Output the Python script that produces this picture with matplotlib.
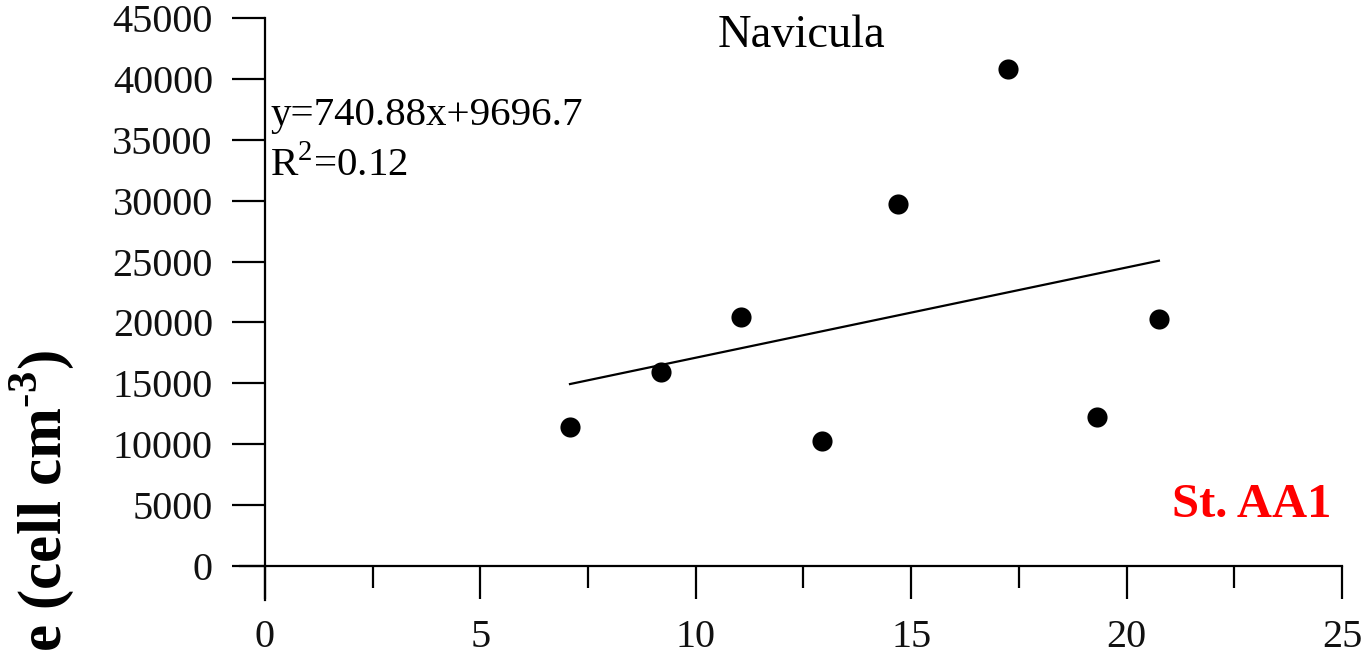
import matplotlib
matplotlib.use("Agg")
import matplotlib.pyplot as plt
import numpy as np

plt.rcParams['font.family'] = ['Liberation Serif', 'DejaVu Serif']
plt.rcParams['mathtext.fontset'] = 'custom'
plt.rcParams['mathtext.rm'] = 'Liberation Serif'
plt.rcParams['mathtext.bf'] = 'Liberation Serif:bold'

# Sampled values (x) and Navicula abundance (cell cm^-3)
x_vals = [7.08, 9.19, 11.05, 12.93, 14.69, 17.25, 19.31, 20.75]
abundance = [11400, 15900, 20450, 10250, 29700, 40800, 12250, 20300]

# Linear fit reported on the chart
slope = 740.88
intercept = 9696.7
r_squared = 0.12

x_ticks = [0, 5, 10, 15, 20, 25]
y_ticks = list(range(0, 45001, 5000))

fig = plt.figure(figsize=(13.66, 6.56), dpi=100)
ax = fig.add_axes([240 / 1366, 56 / 656, (1342 - 240) / 1366, (638 - 56) / 656])

ax.set_xlim(-0.58, 25)
ax.set_ylim(-2790, 45000)

for side in ('top', 'right'):
    ax.spines[side].set_visible(False)
ax.spines['left'].set_position(('data', 0))
ax.spines['bottom'].set_position(('data', 0))
for side in ('left', 'bottom'):
    ax.spines[side].set_linewidth(1.6)

ax.scatter(x_vals, abundance, s=210, color='black', zorder=3, linewidths=0)

xf = np.array([min(x_vals), max(x_vals)])
ax.plot(xf, slope * xf + intercept, color='black', lw=1.6)

ax.set_xticks(x_ticks)
ax.set_xticks([2.5, 7.5, 12.5, 17.5, 22.5], minor=True)
ax.set_yticks(y_ticks)
ax.tick_params(axis='both', which='major', direction='out', length=23.5, width=1.6,
               labelsize=29, colors='black', labelcolor='#111111')
ax.tick_params(axis='x', which='major', pad=15)
ax.tick_params(axis='y', which='major', pad=14)
ax.tick_params(axis='x', which='minor', direction='out', length=15.5, width=1.6)

ax.text(12.45, 43550, 'Navicula', fontsize=33.5, ha='center', va='center')
ax.text(0.12, 37000, 'y=740.88x+9696.7', fontsize=29.5, ha='left', va='center')
ax.text(0.12, 32900, 'R$^{2}$=0.12', fontsize=29.5, ha='left', va='center')
ax.text(22.9, 5000, 'St. AA1', fontsize=35, fontweight='bold', color='#ff0000',
        ha='center', va='center')

fig.text(42 / 1366, 4 / 656, 'e (cell cm$^{\\mathbf{\\text{-}3}}$)', rotation=90, fontsize=44,
         fontweight='bold', ha='center', va='bottom')

fig.savefig('out.png', dpi=100)
